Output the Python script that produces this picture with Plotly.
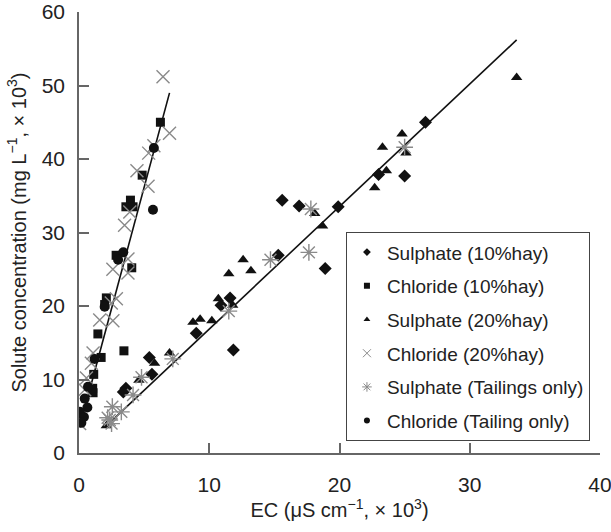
import plotly.graph_objects as go

# ---- data ----
sul10_x = [26.6, 25.0, 23.0, 19.9, 16.9, 15.6, 15.3, 18.9, 11.6, 10.9, 9.0, 11.85, 5.4, 5.6, 3.6, 3.4]
sul10_y = [45.0, 37.7, 37.9, 33.5, 33.6, 34.4, 26.9, 25.1, 21.1, 20.1, 16.3, 14.0, 13.0, 10.7, 8.8, 8.3]

chl10_x = [6.25, 4.85, 3.95, 3.6, 4.15, 2.85, 4.05, 2.1, 1.97, 1.45, 1.7, 3.45, 1.13, 1.05, 1.08]
chl10_y = [45.0, 37.8, 34.4, 33.5, 33.5, 26.9, 25.2, 21.1, 20.2, 16.2, 13.0, 13.9, 10.7, 8.8, 8.2]

sul20_x = [33.6, 24.8, 23.3, 25.1, 23.6, 22.7, 18.1, 18.7, 12.6, 13.2, 11.5, 10.7, 11.8, 10.2, 8.75, 9.3, 6.95, 5.8, 4.6, 2.1]
sul20_y = [51.1, 43.4, 41.6, 40.8, 38.4, 36.1, 32.6, 30.9, 26.3, 24.8, 24.4, 21.0, 20.1, 18.0, 17.8, 18.2, 13.6, 12.2, 9.9, 3.7]

chl20_x = [6.45, 6.95, 5.35, 5.75, 4.45, 5.3, 3.9, 3.5, 3.76, 2.6, 3.76, 2.87, 2.48, 1.59, 2.6, 1.08, 0.95, 0.57, 0.44, 0.05]
chl20_y = [51.2, 43.5, 40.8, 41.8, 38.4, 36.3, 32.8, 31.0, 26.4, 25.0, 24.5, 21.0, 20.4, 18.1, 18.0, 13.6, 12.2, 10.2, 8.6, 4.0]

sultail_x = [25.0, 17.8, 17.65, 14.7, 11.5, 7.2, 4.8, 4.15, 3.25, 2.56, 2.36, 2.5, 2.2]
sultail_y = [41.6, 33.2, 27.3, 26.3, 19.3, 12.8, 10.3, 7.9, 5.6, 6.3, 4.5, 4.0, 4.8]

chltail_x = [5.75, 5.68, 3.4, 3.0, 1.97, 1.2, 0.69, 0.44, 0.64, 0.05, 0.38, 0.18]
chltail_y = [41.5, 33.1, 27.3, 26.3, 19.9, 12.8, 9.0, 7.4, 6.2, 5.6, 4.9, 4.1]

fit_chl_x = [0.05, 6.95]
fit_chl_y = [3.5, 49.0]
fit_sul_x = [2.1, 33.6]
fit_sul_y = [3.7, 56.2]

x_ticks = [0, 10, 20, 30, 40]
y_ticks = [0, 10, 20, 30, 40, 50, 60]

names = ["Sulphate (10%hay)", "Chloride (10%hay)", "Sulphate (20%hay)",
         "Chloride (20%hay)", "Sulphate (Tailings only)", "Chloride (Tailing only)"]

BLACK = "#111111"
GRAY = "#8a8a8a"

series = [
    (sul10_x, sul10_y, dict(symbol="diamond", size=10, color=BLACK)),
    (chl10_x, chl10_y, dict(symbol="square", size=9, color=BLACK)),
    (sul20_x, sul20_y, dict(symbol="triangle-up", size=10, color=BLACK)),
    (chl20_x, chl20_y, dict(symbol="x-thin", size=13, color=GRAY, line=dict(color=GRAY, width=1.4))),
    (sultail_x, sultail_y, dict(symbol="asterisk", size=14, color=GRAY, line=dict(color=GRAY, width=1.4))),
    (chltail_x, chltail_y, dict(symbol="circle", size=10, color=BLACK)),
]
legend_markers = [
    dict(symbol="diamond", size=6, color=BLACK),
    dict(symbol="square", size=6, color=BLACK),
    dict(symbol="triangle-up", size=6, color=BLACK),
    dict(symbol="x-thin", size=8, color=GRAY, line=dict(color=GRAY, width=1)),
    dict(symbol="asterisk", size=8, color=GRAY, line=dict(color=GRAY, width=1)),
    dict(symbol="circle", size=6, color=BLACK),
]

fig = go.Figure()

fig.add_trace(go.Scatter(x=fit_chl_x, y=fit_chl_y, mode="lines",
                         line=dict(color=BLACK, width=1.6), showlegend=False, hoverinfo="skip"))
fig.add_trace(go.Scatter(x=fit_sul_x, y=fit_sul_y, mode="lines",
                         line=dict(color=BLACK, width=1.6), showlegend=False, hoverinfo="skip"))

for (xs, ys, mk), name in zip(series, names):
    fig.add_trace(go.Scatter(x=xs, y=ys, mode="markers", marker=mk, name=name, showlegend=False))

for i, (name, mk) in enumerate(zip(names, legend_markers)):
    fig.add_trace(go.Scatter(x=[None], y=[None], mode="markers", marker=mk, name=name,
                             legendgroup=f"g{i}", showlegend=True))

axis_common = dict(
    showgrid=False, zeroline=False, showline=True, linecolor="#666666", linewidth=1.5,
    ticks="inside", ticklen=10, tickwidth=1.5, tickcolor="#666666",
    tickfont=dict(size=21, color="#222222"), mirror=False, automargin=False,
    ticklabeloverflow="allow",
)

fig.update_xaxes(range=[0, 40], tickvals=x_ticks, ticklabelstandoff=12,
                 title=dict(text="EC (μS cm<sup>−1</sup>, × 10<sup>3</sup>)",
                            font=dict(size=20, color="#222222"), standoff=6),
                 **axis_common)
fig.update_yaxes(range=[0, 60], tickvals=y_ticks, ticklabelstandoff=8,
                 title=dict(text="Solute concentration (mg L<sup>−1</sup>, × 10<sup>3</sup>)",
                            font=dict(size=20, color="#222222"), standoff=10),
                 **axis_common)

fig.update_layout(
    width=611, height=532,
    margin=dict(l=79, r=11, t=12, b=79, autoexpand=False),
    plot_bgcolor="white", paper_bgcolor="white",
    font=dict(family="Liberation Sans, Arial, sans-serif", color="#222222"),
    legend=dict(x=0.512, y=0.501, xanchor="left", yanchor="top",
                bordercolor="#444444", borderwidth=1.2, bgcolor="white",
                font=dict(size=19, color="#222222"),
                traceorder="grouped", tracegroupgap=6, itemwidth=30),
    showlegend=True,
)

fig.write_html("out.html", config={"displayModeBar": False},
               post_script="document.body.style.margin='0';")
